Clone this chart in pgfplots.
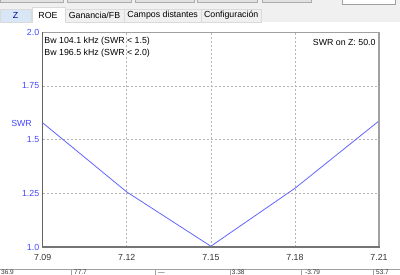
\documentclass[border=0pt]{standalone}
\usepackage{pgfplots}
\pgfplotsset{compat=1.18}
\usepackage{fontspec}
\setmainfont{Liberation Sans}
\definecolor{tickblue}{RGB}{70,70,255}
\definecolor{lineblue}{RGB}{100,100,255}
\definecolor{tabgray}{RGB}{240,240,240}
\definecolor{btngray}{RGB}{225,225,225}
\definecolor{btnborder}{RGB}{173,173,173}
\definecolor{tabblue}{RGB}{217,230,245}
\definecolor{tabborder}{RGB}{218,218,218}
\definecolor{gridgray}{RGB}{180,180,180}
\definecolor{axdark}{RGB}{100,100,100}
\definecolor{axlight}{RGB}{160,160,160}
\begin{document}
\begin{tikzpicture}[x=1pt,y=1pt,font=\fontsize{8.8}{10}\selectfont]
\clip (0,0) rectangle (400,275);
\fill[white] (0,0) rectangle (400,275);
% top strip
\fill[tabgray] (0,252.5) rectangle (400,275);
% buttons cut at top
\foreach \a/\b in {0/63,67/131,135/194,197/257,262/311}{
  \filldraw[fill=btngray,draw=btnborder] (\a,272.3) rectangle (\b,276);
}
\filldraw[fill=white,draw=axlight] (342,270.3) rectangle (395,276);
% tabs
\filldraw[fill=tabblue,draw=tabborder] (0,253) rectangle (31,266);
\node[text=blue!60!black] at (15.5,259.5) {Z};
\filldraw[fill=white,draw=tabborder] (32,252.5) rectangle (65,268);
\node at (48,259.5) {ROE};
\filldraw[fill=tabgray,draw=tabborder] (65,253) rectangle (124,266);
\node at (94.5,259.5) {Ganancia/FB};
\filldraw[fill=tabgray,draw=tabborder] (124,253) rectangle (201.5,266);
\node at (162.7,259.5) {Campos distantes};
\filldraw[fill=tabgray,draw=tabborder] (201.5,253) rectangle (261,266);
\node at (231.2,259.5) {Configuración};
\fill[white] (32.5,252) rectangle (64.5,254);
\begin{axis}[
  at={(42.7pt,27.7pt)}, anchor=south west,
  width=336.3pt, height=215.3pt, scale only axis,
  xmin=7.09, xmax=7.21, ymin=1, ymax=2,
  xtick={7.09,7.12,7.15,7.18,7.21},
  xticklabels={7.09,7.12,7.15,7.18,7.21},
  ytick={1,1.25,1.5,1.75,2},
  yticklabels={1.0,1.25,1.5,1.75,2.0},
  /pgf/number format/assume math mode=true,
  major tick length=0pt,
  grid=major,
  grid style={gridgray, dash pattern=on 2pt off 2pt, line width=0.6pt},
  axis line style={draw=none},
  xticklabel style={font=\fontsize{8.8}{10}\selectfont, text=black!80, yshift=-3.3pt},
  yticklabel style={font=\fontsize{8.8}{10}\selectfont, text=tickblue},
  clip=false,
]
\addplot[lineblue, line width=0.8pt] coordinates {
  (7.09,1.578) (7.12,1.257) (7.15,1.005) (7.18,1.274) (7.21,1.587)
};
\end{axis}
% axis frame
\draw[axlight, line width=0.8pt] (42.7,243) -- (379,243);
\draw[axlight, line width=1.6pt] (379,243) -- (379,27.7);
\draw[axdark, line width=1.2pt] (42.7,243.4) -- (42.7,27.7);
\draw[axdark!90, line width=1.6pt] (42,27.7) -- (379.8,27.7);
% annotations
\node[anchor=west, inner sep=0pt] at (44.3,233.3) {Bw 104.1 kHz (SWR < 1.5)};
\node[anchor=west, inner sep=0pt] at (44.3,221.3) {Bw 196.5 kHz (SWR < 2.0)};
\node[anchor=east, inner sep=0pt] at (375.7,232.7) {SWR on Z: 50.0};
\node[anchor=east, inner sep=0pt, text=tickblue] at (32,151.7) {SWR};
% bottom table cells
\draw[axlight, line width=0.6pt] (0,5.8) -- (400,5.8);
\foreach \xx in {71,155.7,230,301.7,373}{
  \draw[axlight, line width=0.6pt] (\xx,5.8) -- (\xx,0);
}
\foreach \xx/\t in {1/36.9,74/77.7,158/---,231.7/3.38,305/-3.79,376/53.7}{
  \node[anchor=base west, inner sep=0pt, text=black!80, font=\fontsize{6.5}{7}\selectfont] at (\xx,0.4) {\t};
}
\end{tikzpicture}
\end{document}
